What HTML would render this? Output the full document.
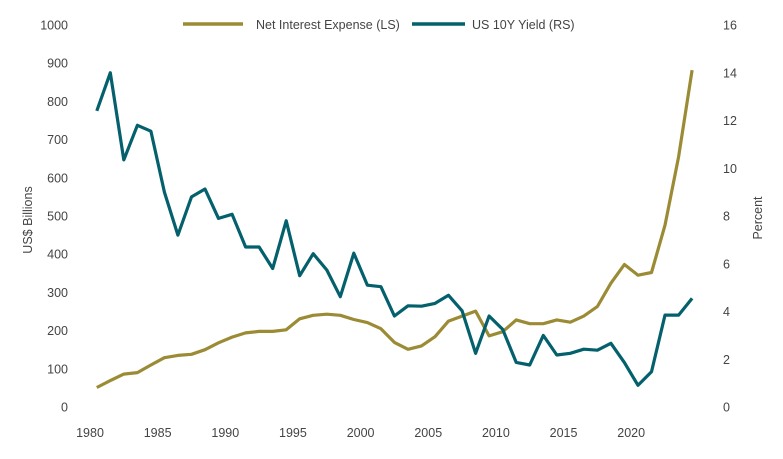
<!DOCTYPE html>
<html><head><meta charset="utf-8"><style>
body{margin:0;background:#fff;}
svg{display:block;font-family:"Liberation Sans",Arial,sans-serif;}
text{fill:#444;font-size:12.5px;}
</style></head><body>
<svg id="chart" width="783" height="459" viewBox="0 0 783 459">
<g id="legend">
<line x1="183" y1="24" x2="243" y2="24" stroke="#9b8b35" stroke-width="3.5"/>
<text x="256" y="29">Net Interest Expense (LS)</text>
<line x1="412" y1="24" x2="465" y2="24" stroke="#04606c" stroke-width="3.5"/>
<text x="472" y="29">US 10Y Yield (RS)</text>
</g>
<g id="axes"></g>
<text transform="translate(32,220) rotate(-90)" text-anchor="middle">US$ Billions</text>
<text transform="translate(762,218) rotate(-90)" text-anchor="middle">Percent</text>
<g id="series"></g>
</svg>
<script>
const years = [];
for (let y = 1980; y <= 2024; y++) years.push(y);
const interestExpense = [51,69,86,90,110,129,135,138,150,168,183,194,198,198,202,231,240,243,240,229,221,205,169,151,160,184,225,238,251,186,197,228,218,218,228,222,238,263,324,373,345,352,476,655,882];
const yield10y = [12.4,14.0,10.35,11.8,11.55,9.0,7.2,8.8,9.13,7.9,8.07,6.7,6.7,5.8,7.8,5.5,6.42,5.74,4.62,6.44,5.1,5.04,3.81,4.24,4.22,4.34,4.68,4.03,2.25,3.81,3.25,1.87,1.76,3.0,2.18,2.25,2.42,2.38,2.67,1.86,0.91,1.48,3.85,3.85,4.55];
const leftTicks = [0,100,200,300,400,500,600,700,800,900,1000];
const rightTicks = [0,2,4,6,8,10,12,14,16];
const xTicks = [1980,1985,1990,1995,2000,2005,2010,2015,2020];

const NS = "http://www.w3.org/2000/svg";
const xScale = y => 90 + (y - 1980 + 0.5) * 13.53;
const xTickScale = y => 90 + (y - 1980) * 13.53;
const yLeft = v => 407 - v * 0.382;
const yRight = v => 407 - v * 23.875;

const axes = document.getElementById('axes');
function txt(x, y, s, anchor) {
  const t = document.createElementNS(NS, 'text');
  t.setAttribute('x', x); t.setAttribute('y', y);
  t.setAttribute('text-anchor', anchor);
  t.textContent = s;
  axes.appendChild(t);
  return t;
}
leftTicks.forEach(v => {
  const t = txt(68, yLeft(v) + 4.5, v, 'end');
  
  
});
rightTicks.forEach(v => {
  const t = txt(723, yRight(v) + 4.5, v, 'start');
  
  
});
xTicks.forEach(v => {
  const t = txt(xTickScale(v), 437, v, 'middle');
  
  
});

const series = document.getElementById('series');
function line(vals, scale, color, name) {
  const p = document.createElementNS(NS, 'polyline');
  p.setAttribute('points', vals.map((v, i) => xScale(years[i]).toFixed(1) + ',' + scale(v).toFixed(1)).join(' '));
  p.setAttribute('fill', 'none');
  p.setAttribute('stroke', color);
  p.setAttribute('stroke-width', '3.2');
  p.setAttribute('stroke-linejoin', 'round');
  
  
  series.appendChild(p);
}
line(interestExpense, yLeft, '#9b8b35', 'net-interest-expense-line');
line(yield10y, yRight, '#04606c', 'us-10y-yield-line');
</script>
</body></html>
